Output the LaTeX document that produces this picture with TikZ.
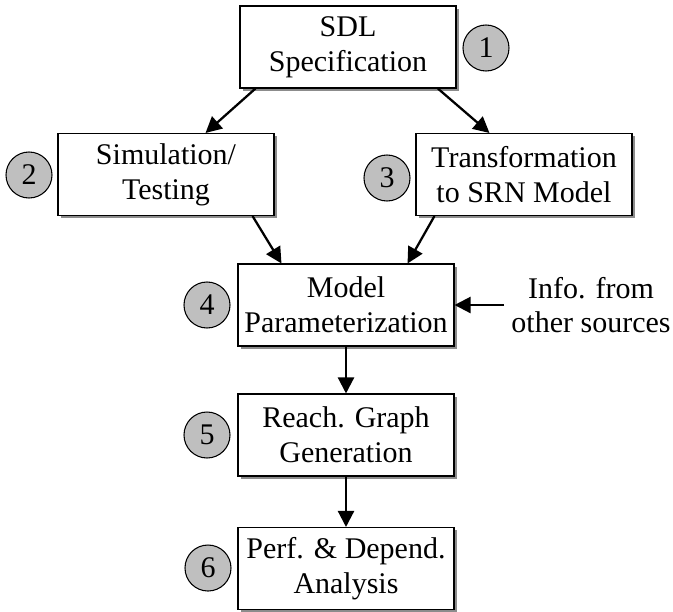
\documentclass[tikz,border=0pt]{standalone}
\usepackage{fontspec}
\setmainfont{Liberation Serif}
\usetikzlibrary{positioning,arrows.meta,shadows}

\begin{document}
\begin{tikzpicture}[x=0.75pt,y=-0.75pt,
  stage/.style={draw,line width=0.8pt,fill=white,minimum width=162pt,minimum height=61.5pt,align=center,
    font=\fontsize{22.5}{26}\selectfont,drop shadow={opacity=1,fill=black!45,shadow xshift=2.2pt,shadow yshift=-2.2pt}},
  num/.style={circle,draw,line width=0.8pt,fill=black!25,minimum size=34.5pt,inner sep=0pt,font=\fontsize{22.5}{26}\selectfont},
  flow/.style={line width=1.7pt,-{Triangle[length=12pt,width=12pt]}}]
\useasboundingbox (0,0) rectangle (673,611);
\node[stage] (sdl) at (348,47) {SDL\\Specification};
\node[stage] (sim) at (166,174.5) {Simulation/\\Testing};
\node[stage] (trans) at (524,174.5) {Transformation\\to SRN Model};
\node[stage] (param) at (346,305) {Model\\Parameterization};
\node[stage] (reach) at (346,435) {Reach. Graph\\Generation};
\node[stage] (perf) at (346,568.5) {Perf. \& Depend.\\Analysis};
\node[align=center,font=\fontsize{22.5}{26}\selectfont] (info) at (591,305) {Info. from\\other sources};
\node[num] (n1) at (486,48) {1};
\node[num] (n2) at (29,175) {2};
\node[num] (n3) at (387,178) {3};
\node[num] (n4) at (207,305) {4};
\node[num] (n5) at (207,435) {5};
\node[num] (n6) at (208,568) {6};
\draw[flow] ([xshift=12pt]sdl.south west) -- ([xshift=-51.75pt]sim.north east);
\draw[flow] ([xshift=-14pt]sdl.south east) -- ([xshift=55.5pt]trans.north west);
\draw[flow] ([xshift=-16.5pt]sim.south east) -- ([xshift=33pt]param.north west);
\draw[flow] ([xshift=14.25pt]trans.south west) -- ([xshift=-35.25pt]param.north east);
\draw[flow] ([xshift=-2pt]info.west |- param.east) -- (param.east);
\draw[flow] (param.south) -- (reach.north);
\draw[flow] (reach.south) -- (perf.north);
\end{tikzpicture}
\end{document}
